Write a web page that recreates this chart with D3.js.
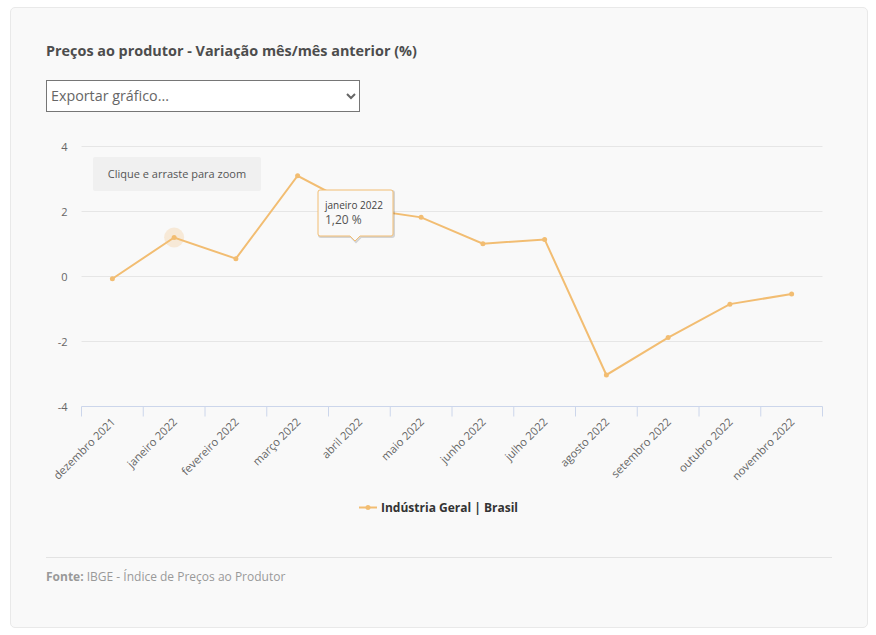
<!DOCTYPE html>
<html>
<head>
<meta charset="utf-8">
<script src="https://cdn.jsdelivr.net/npm/d3@7"></script>
<style>
html, body { margin: 0; padding: 0; background: #fff; font-family: "Open Sans", sans-serif; }
#wrap { position: relative; width: 876px; height: 635px; overflow: hidden; }
#card { position: absolute; left: 10px; top: 7px; width: 856px; height: 619px; background: #f9f9f9; border: 1px solid #e9e9e9; border-radius: 5px; }
#chart { position: absolute; left: 0; top: 0; }
#export { position: absolute; left: 46px; top: 80px; width: 314px; height: 32px; background: #fff; border: 1px solid #767676; border-radius: 0; font-family: "Open Sans", sans-serif; font-size: 14.3px; line-height: 28px; color: #666; padding: 0 0 2px 0; }
</style>
</head>
<body>
<div id="wrap">
  <div id="card"></div>
  <svg id="chart" width="876" height="635"></svg>
  <select id="export"><option>Exportar gráfico...</option></select>
</div>
<script>
var months = ["dezembro 2021", "janeiro 2022", "fevereiro 2022", "março 2022", "abril 2022", "maio 2022",
    "junho 2022", "julho 2022", "agosto 2022", "setembro 2022", "outubro 2022", "novembro 2022"];
var values = [-0.07, 1.20, 0.55, 3.10, 2.10, 1.82, 1.01, 1.14, -3.03, -1.88, -0.85, -0.54];
var yTicks = [-4, -2, 0, 2, 4];
var seriesName = "Indústria Geral | Brasil";
var hovered = "janeiro 2022";

var lineColor = "#f2bd72";
var svg = d3.select("#chart");

var x = d3.scaleBand().domain(months).range([81.5, 822.5]);
var y = d3.scaleLinear().domain([-4, 4]).range([406.5, 146.5]);

// title
svg.append("text").attr("x", 46).attr("y", 56)
    .attr("font-size", 14.4).attr("font-weight", 700).attr("fill", "#4d4d4d")
    .text("Preços ao produtor - Variação mês/mês anterior (%)");

// gridlines + y labels
var yAxis = d3.axisLeft(y).tickValues(yTicks).tickSize(0).tickPadding(14)
    .tickFormat(function(d) { return String(d); });
var yG = svg.append("g").attr("transform", "translate(81.5,0)").call(yAxis);
yG.select(".domain").remove();
yG.selectAll("text").attr("font-family", "Open Sans").attr("font-size", 11).attr("fill", "#666");
svg.selectAll(".grid").data(yTicks.filter(function(d) { return d !== -4; }))
    .enter().append("line").attr("class", "grid")
    .attr("x1", 81.5).attr("x2", 822.5)
    .attr("y1", function(d) { return y(d); }).attr("y2", function(d) { return y(d); })
    .attr("stroke", "#e6e6e6");

// x axis, ticks sit on the band edges
var xG = svg.append("g").attr("transform", "translate(0,406.5)").call(d3.axisBottom(x).tickSize(0));
xG.select(".domain").remove();
xG.selectAll("text")
    .attr("font-family", "Open Sans").attr("font-size", 11.2).attr("fill", "#666")
    .attr("text-anchor", "end").attr("dy", null)
    .attr("transform", "translate(1.5,14) rotate(-45)");
svg.append("line").attr("x1", 81.5).attr("x2", 822.5).attr("y1", 406.5).attr("y2", 406.5).attr("stroke", "#ccd6eb");
svg.selectAll(".xtick").data(months.concat([null]))
    .enter().append("line").attr("class", "xtick")
    .attr("x1", function(d) { return d ? x(d) : x.range()[1]; })
    .attr("x2", function(d) { return d ? x(d) : x.range()[1]; })
    .attr("y1", 406.5).attr("y2", 416.5).attr("stroke", "#ccd6eb");

// zoom hint
svg.append("rect").attr("x", 93).attr("y", 157).attr("width", 168).attr("height", 34).attr("rx", 2).attr("fill", "#f0f0f0");
svg.append("text").attr("x", 177).attr("y", 178).attr("text-anchor", "middle")
    .attr("font-size", 11).attr("fill", "#555").text("Clique e arraste para zoom");

// series
var cx = function(d, i) { return x(months[i]) + x.bandwidth() / 2; };
var line = d3.line().x(cx).y(function(d) { return y(d); });

svg.append("circle").attr("cx", cx(null, months.indexOf(hovered)))
    .attr("cy", y(values[months.indexOf(hovered)])).attr("r", 10)
    .attr("fill", lineColor).attr("opacity", 0.25);
svg.append("path").datum(values).attr("d", line)
    .attr("fill", "none").attr("stroke", lineColor).attr("stroke-width", 2);
svg.selectAll(".pt").data(values).enter().append("circle").attr("class", "pt")
    .attr("cx", cx).attr("cy", function(d) { return y(d); }).attr("r", 2.5).attr("fill", lineColor);

// tooltip
var tip = svg.append("g");
var tipPath = "M320,190 H391 a2,2 0 0 1 2,2 V234 a2,2 0 0 1 -2,2 H360 L355,241 L350,236 H320 a2,2 0 0 1 -2,-2 V192 a2,2 0 0 1 2,-2 Z";
tip.append("path").attr("d", tipPath).attr("transform", "translate(1,1)")
    .attr("fill", "none").attr("stroke", "#000").attr("stroke-opacity", 0.15).attr("stroke-width", 2);
tip.append("path").attr("d", tipPath).attr("fill", "#f9f9f9").attr("stroke", lineColor);
tip.append("text").attr("x", 325).attr("y", 209).attr("font-size", 10).attr("fill", "#444").text(hovered);
tip.append("text").attr("x", 325).attr("y", 224).attr("font-size", 12).attr("fill", "#555")
    .text(d3.format(".2f")(values[months.indexOf(hovered)]).replace(".", ",") + " %");

// legend
svg.append("line").attr("x1", 359).attr("x2", 377).attr("y1", 507.5).attr("y2", 507.5).attr("stroke", lineColor).attr("stroke-width", 2);
svg.append("circle").attr("cx", 368).attr("cy", 507.5).attr("r", 2.5).attr("fill", lineColor);
svg.append("text").attr("x", 381).attr("y", 512).attr("font-size", 12).attr("font-weight", 700).attr("fill", "#333").text(seriesName);

// footer
svg.append("line").attr("x1", 46).attr("x2", 832).attr("y1", 557.5).attr("y2", 557.5).attr("stroke", "#e3e3e3");
var fonte = svg.append("text").attr("x", 46).attr("y", 581).attr("font-size", 12).attr("fill", "#999");
fonte.append("tspan").attr("font-weight", 700).text("Fonte:");
fonte.append("tspan").text(" IBGE - Índice de Preços ao Produtor");
</script>
</body>
</html>
